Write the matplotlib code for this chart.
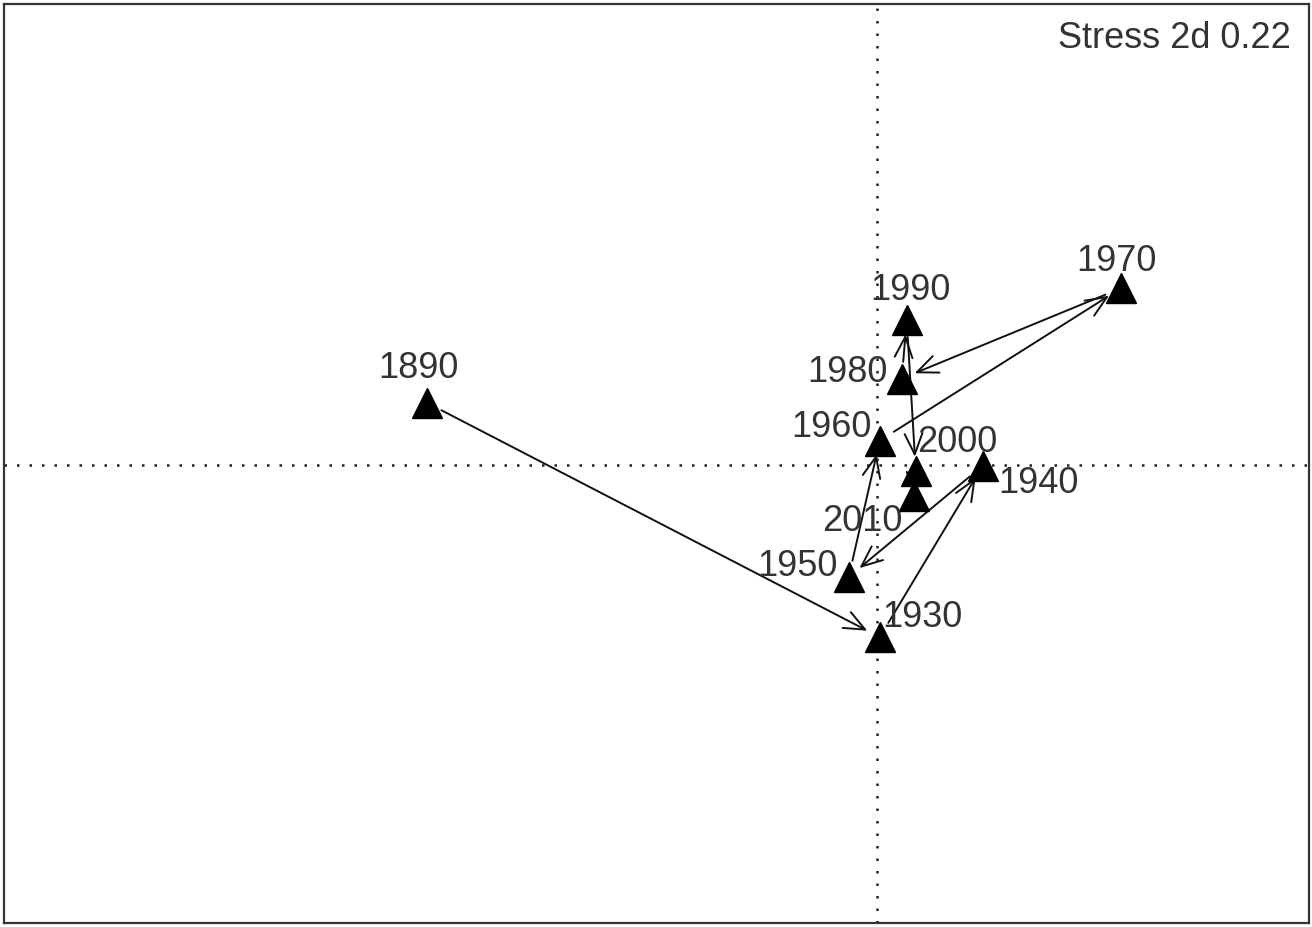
import matplotlib.pyplot as plt

# NMDS ordination of decadal samples (2d solution)
years = ["1890", "1930", "1940", "1950", "1960", "1970", "1980", "1990", "2000", "2010"]
mds1 = [-1.800, 0.012, 0.424, -0.112, 0.012, 0.976, 0.100, 0.120, 0.156, 0.148]
mds2 = [0.248, -0.688, -0.004, -0.448, 0.096, 0.704, 0.344, 0.576, -0.024, -0.124]
stress = 0.22

# where each year label sits relative to its point (offset points)
label_dx = [-6, 31, 40, -37, -35, -3, -39, 3, 30, -37]
label_dy = [25, 15, -12, 8, 10, 20, 5, 22, 21, -18]

fig = plt.figure(figsize=(13.12, 9.28), dpi=100)
ax = fig.add_axes([0.003, 0.004, 0.995, 0.991])

# origin cross
ax.axhline(0, color="#222222", lw=1.8, ls=(0, (1, 4)), zorder=1)
ax.axvline(0, color="#222222", lw=1.8, ls=(0, (1, 4)), zorder=1)

# trajectory through time
for i in range(len(years) - 1):
    ax.annotate("", xy=(mds1[i + 1], mds2[i + 1]), xytext=(mds1[i], mds2[i]),
                arrowprops=dict(arrowstyle="->,head_length=0.75,head_width=0.32",
                                color="#111111", lw=1.4, shrinkA=12, shrinkB=10,
                                mutation_scale=20),
                zorder=2)

ax.plot(mds1, mds2, ls="none", marker="^", ms=21, color="black", zorder=3)

for yr, x, y, dx, dy in zip(years, mds1, mds2, label_dx, label_dy):
    ax.annotate(yr, (x, y), xytext=(dx, dy), textcoords="offset points",
                ha="center", va="center", fontsize=26,
                family="Liberation Sans", color="#333333", zorder=4)

ax.text(0.986, 0.963, f"Stress 2d {stress}", transform=ax.transAxes,
        ha="right", va="center", fontsize=26, family="Liberation Sans",
        color="#333333")

ax.set_xlim(-3.49, 1.73)
ax.set_ylim(-1.83, 1.84)
ax.set_xticks([])
ax.set_yticks([])
for sp in ax.spines.values():
    sp.set_linewidth(1.6)
    sp.set_color("#333333")

fig.savefig("out.png", dpi=100)
